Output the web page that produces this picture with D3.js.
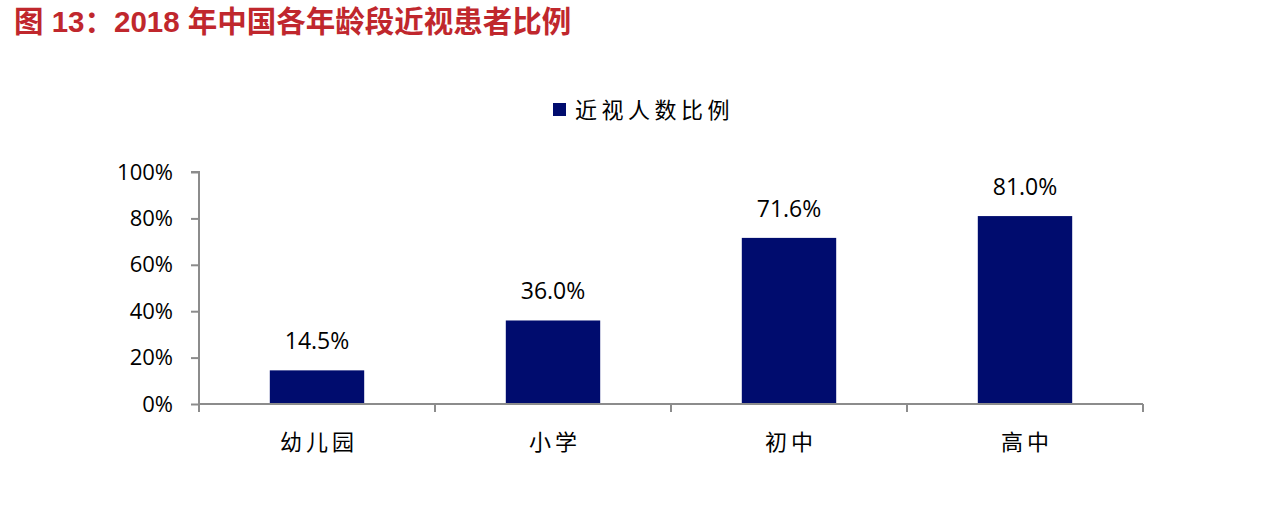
<!DOCTYPE html>
<html><head><meta charset="utf-8">
<script src="https://cdn.jsdelivr.net/npm/d3@7/dist/d3.min.js"></script>
<style>body{margin:0;background:#fff}</style>
</head><body>
<svg id="c" width="1284" height="516"></svg>
<script>
const categories = ["幼儿园","小学","初中","高中"];
const values = [14.5, 36.0, 71.6, 81.0];
const yTicks = [0,20,40,60,80,100];
const seriesName = "近视人数比例";
const titleText = "图 13：2018 年中国各年龄段近视患者比例";

const svg = d3.select("#c");
const margin = {left:199, right:1143, top:172, bottom:404};
const x = d3.scaleBand().domain(categories).range([margin.left, margin.right]).paddingInner(0.6).paddingOuter(0.3);
const y = d3.scaleLinear().domain([0,100]).range([margin.bottom, margin.top]);
const barColor = "#000c6e";
const axisColor = "#8c8c8c";

svg.append("text").attr("x",14).attr("y",32)
  .attr("font-family","Liberation Sans, Arial, Noto Sans CJK SC, sans-serif")
  .attr("font-size",29.5).attr("font-weight","bold").attr("fill","#c0272d")
  .text(titleText);

// legend
svg.append("rect").attr("x",553).attr("y",103).attr("width",13).attr("height",13).attr("fill",barColor);
svg.append("text").attr("x",575).attr("y",118)
  .attr("font-family","Noto Sans CJK SC, sans-serif").attr("font-size",22).attr("letter-spacing",4.5).attr("fill","#000")
  .text(seriesName);

// bars
svg.selectAll("rect.bar").data(values).enter().append("rect").attr("class","bar")
  .attr("x",(d,i)=>x(categories[i])).attr("width",x.bandwidth())
  .attr("y",d=>y(d)).attr("height",d=>y(0)-y(d)).attr("fill",barColor);

svg.selectAll("text.lab").data(values).enter().append("text").attr("class","lab")
  .attr("x",(d,i)=>x(categories[i])+x.bandwidth()/2).attr("y",d=>y(d)-21)
  .attr("text-anchor","middle").attr("font-family","Open Sans, Noto Sans, sans-serif")
  .attr("font-size",23).attr("fill","#000").text(d=>d.toFixed(1)+"%");

// y axis
const yAxis = d3.axisLeft(y).tickValues(yTicks).tickFormat(d=>d+"%").tickSize(8).tickPadding(18);
const gy = svg.append("g").attr("transform",`translate(${margin.left},0)`).call(yAxis);
gy.select(".domain").attr("stroke",axisColor).attr("stroke-width",2).attr("d",`M-8,${margin.top}H0V${margin.bottom}`);
gy.selectAll(".tick line").attr("stroke",axisColor).attr("stroke-width",2);
gy.selectAll(".tick text").attr("font-family","Open Sans, Noto Sans, sans-serif").attr("font-size",22).attr("fill","#000");

// x axis with ticks at boundaries
const gx = svg.append("g").attr("transform",`translate(0,${margin.bottom})`);
gx.append("line").attr("x1",margin.left).attr("x2",margin.right).attr("stroke",axisColor).attr("stroke-width",2);
const bounds = d3.range(categories.length+1).map(i=>margin.left + i*(margin.right-margin.left)/categories.length);
gx.selectAll("line.t").data(bounds).enter().append("line").attr("class","t")
  .attr("x1",d=>d).attr("x2",d=>d).attr("y1",0).attr("y2",8).attr("stroke",axisColor).attr("stroke-width",2);
gx.selectAll("text").data(categories).enter().append("text")
  .attr("x",d=>x(d)+x.bandwidth()/2+2).attr("y",46).attr("text-anchor","middle")
  .attr("font-family","Noto Sans CJK SC, sans-serif").attr("font-size",22).attr("letter-spacing",4).attr("fill","#000")
  .text(d=>d);
</script>
</body></html>
